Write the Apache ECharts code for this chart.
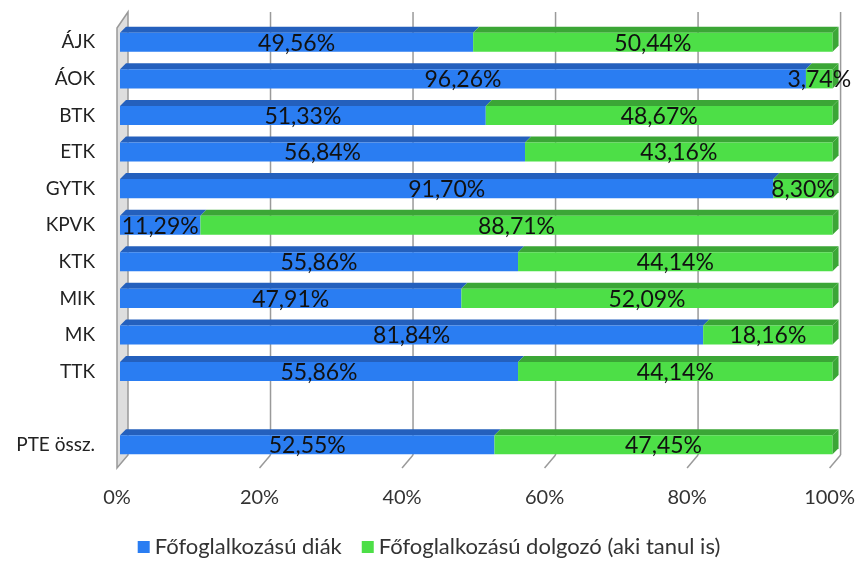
<!DOCTYPE html>
<html>
<head>
<meta charset="utf-8">
<script src="https://cdn.jsdelivr.net/npm/echarts@6/dist/echarts.min.js"></script>
<style>html,body{margin:0;padding:0;background:#fff}#c{width:858px;height:563px}</style>
</head>
<body>
<div id="c"></div>
<script>
const categories = ['ÁJK','ÁOK','BTK','ETK','GYTK','KPVK','KTK','MIK','MK','TTK','','PTE össz.'];
const diak = [49.56,96.26,51.33,56.84,91.70,11.29,55.86,47.91,81.84,55.86,null,52.55];
const dolgozo = [50.44,3.74,48.67,43.16,8.30,88.71,44.14,52.09,18.16,44.14,null,47.45];
const xTicks = [0,20,40,60,80,100];
const seriesNames = ['Főfoglalkozású diák','Főfoglalkozású dolgozó (aki tanul is)'];

const FONT = 'Lato';
const colors = {
  blue: {front:'#2a7df2', top:'#2460bd'},
  green: {front:'#4ddf47', top:'#3ba636'}
};

function segData(startArr, vals){
  const out = [];
  vals.forEach((v,i)=>{
    if (v == null) return;
    const s = startArr ? startArr[i] : 0;
    out.push([i, s, s + v, v]);
  });
  return out;
}

function fmt(v){ return v.toFixed(2).replace('.', ',') + '%'; }

function makeBarRender(col){
  return function(params, api){
    const cat = api.value(0), s = api.value(1), e = api.value(2), v = api.value(3);
    const a = api.coord([s, cat]), b = api.coord([Math.min(e,100), cat]);
    const bw = api.size([0,1])[1] * 0.52;
    const off = 3, d = 6;
    const x0 = a[0] + off, x1 = b[0] + off, yc = a[1];
    const yt = yc - bw/2, yb = yc + bw/2;
    const children = [
      {type:'polygon', shape:{points:[[x0,yt],[x1,yt],[x1+d,yt-d],[x0+d,yt-d]]}, style:{fill:col.top}},
      {type:'rect', shape:{x:x0, y:yt, width:x1-x0, height:bw}, style:{fill:col.front}}
    ];
    if (e >= 99.99) {
      children.push({type:'polygon', shape:{points:[[x1,yt],[x1+d,yt-d],[x1+d,yb-d],[x1,yb]]}, style:{fill:col.top}});
    }
    children.push({type:'text', z2:100, style:{x:(x0+x1)/2, y:yc+1, text:fmt(v), align:'center', verticalAlign:'middle', fill:'#111', font:'23px ' + FONT}});
    return {type:'group', children};
  };
}

function decorRender(params, api){
  const val = api.value(0);
  const cs = params.coordSys;
  const x = api.coord([val, 0])[0];
  const bottom = cs.y + cs.height;
  const dx = 11;
  const children = [];
  if (val === 0) {
    children.push({type:'polygon', shape:{points:[[x, cs.y+4],[x+dx, cs.y-12],[x+dx, bottom-8],[x, bottom+5]]},
      style:{fill:'#dedede', stroke:'#999', lineWidth:1.5}});
  } else {
    children.push({type:'line', shape:{x1:x+dx, y1:cs.y-12, x2:x+dx, y2:bottom-8}, style:{stroke:'#9a9a9a', lineWidth:1.5}});
    children.push({type:'line', shape:{x1:x, y1:bottom+5, x2:x+dx, y2:bottom-8}, style:{stroke:'#9a9a9a', lineWidth:1.5}});
  }
  return {type:'group', children};
}

const chart = echarts.init(document.getElementById('c'), null, {renderer:'canvas'});
chart.setOption({
  animation:false,
  textStyle:{fontFamily:FONT},
  grid:{left:117, right:28, top:24, bottom:100, containLabel:false},
  xAxis:{type:'value', min:0, max:100, interval:20,
    axisLine:{show:false}, axisTick:{show:false}, splitLine:{show:false},
    axisLabel:{formatter:'{value}%', fontSize:20, color:'#333', margin:25, fontFamily:FONT}},
  yAxis:{type:'category', data:categories, inverse:true,
    axisLine:{show:false}, axisTick:{show:false},
    axisLabel:{fontSize:19, color:'#222', margin:22, fontFamily:FONT}},
  legend:{bottom:0, left:'center', itemWidth:12, itemHeight:12, itemGap:20, icon:'rect',
    textStyle:{fontSize:22, color:'#333', fontFamily:FONT},
    data:seriesNames},
  series:[
    {type:'custom', name:'decor', silent:true, z:1, renderItem:decorRender,
      data:xTicks.map(t=>[t,0]), encode:{x:0, y:1}},
    {type:'custom', name:seriesNames[0], z:2, itemStyle:{color:colors.blue.front}, renderItem:makeBarRender(colors.blue),
      data:segData(null, diak), encode:{x:[1,2], y:0}},
    {type:'custom', name:seriesNames[1], z:2, itemStyle:{color:colors.green.front}, renderItem:makeBarRender(colors.green),
      data:segData(diak, dolgozo), encode:{x:[1,2], y:0}}
  ]
});
</script>
</body>
</html>
